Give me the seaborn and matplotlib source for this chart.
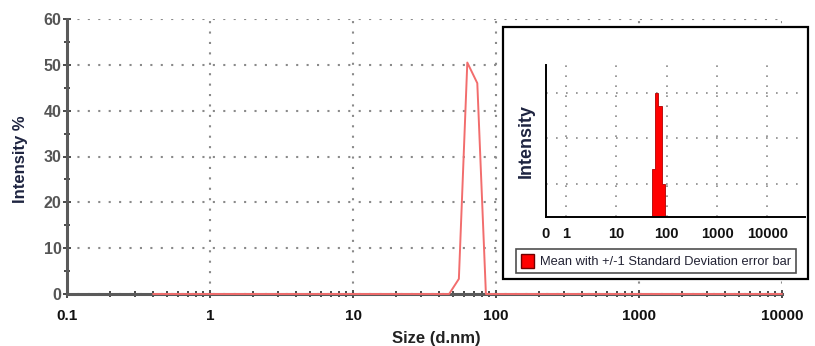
import matplotlib
matplotlib.use("Agg")
import matplotlib.pyplot as plt
import seaborn as sns
import pandas as pd
from matplotlib.patches import Rectangle, Patch
from matplotlib.ticker import LogLocator, MultipleLocator, FixedLocator, NullFormatter

# ---- data ----
sizes_nm = [0.4, 47, 55, 63, 74, 85, 10000]
intensity_pct = [0, 0, 3.3, 50.5, 46, 0, 0]

x_tick_values = [0.1, 1, 10, 100, 1000, 10000]
x_tick_labels = ["0.1", "1", "10", "100", "1000", "10000"]
y_tick_values = [0, 10, 20, 30, 40, 50, 60]

inset_bin_edges = [51, 59, 68, 79, 91]
inset_heights = [17.4, 44.9, 40.2, 11.9]
inset_tick_values = [0.4, 1, 10, 100, 1000, 10000]
inset_tick_labels = ["0", "1", "10", "100", "1000", "10000"]
inset_grid_y = [12, 28.6, 45]
legend_text = "Mean with +/-1 Standard Deviation error bar"

sns.set_theme(style="white")
plt.rcParams["font.family"] = ["Liberation Sans", "DejaVu Sans"]

fig = plt.figure(figsize=(8.15, 3.46), dpi=100)
ax = fig.add_axes([67/815, 1-294/346, 715/815, 275/346])

df = pd.DataFrame({"size": sizes_nm, "intensity": intensity_pct})
sns.lineplot(data=df, x="size", y="intensity", ax=ax, color="#f26d6d",
             lw=1.4, zorder=5, sort=False, clip_on=False)

ax.set_xscale("log")
ax.set_xlim(0.1, 10000)
ax.set_ylim(0, 60)
ax.set_xticks(x_tick_values)
ax.set_xticklabels(x_tick_labels)
ax.xaxis.set_minor_locator(LogLocator(base=10, subs=range(2, 10), numticks=20))
ax.xaxis.set_minor_formatter(NullFormatter())
ax.set_yticks(y_tick_values)
ax.yaxis.set_minor_locator(MultipleLocator(5))

for s in ["top", "right"]:
    ax.spines[s].set_visible(False)
for s in ["left", "bottom"]:
    ax.spines[s].set_color("#5a5a5a")
    ax.spines[s].set_linewidth(2.2)
    ax.spines[s].set_zorder(3)

ax.grid(True, which="major", color="#8a8a8a", lw=1.5, ls=(0, (1, 4)))
ax.tick_params(which="both", bottom=True, left=True, direction="inout",
               color="#4a4a4a", width=1.4)
ax.tick_params(which="major", length=6)
ax.tick_params(which="minor", length=5)
ax.tick_params(axis="x", labelsize=11, labelcolor="#111111", pad=8)
ax.tick_params(axis="y", labelsize=11.5, labelcolor="#555555", pad=1)
for lab in ax.get_xticklabels():
    lab.set_fontweight("bold")
for lab in ax.get_yticklabels():
    lab.set_fontweight("bold")

ax.set_xlabel("Size (d.nm)", fontsize=12, fontweight="bold", color="#222222")
ax.xaxis.set_label_coords(0.516, -0.135)
ax.set_ylabel("Intensity %", fontsize=12, fontweight="bold", color="#1e2440")
ax.yaxis.set_label_coords(-0.055, 0.49)

# ---- inset (pasted statistics graph) ----
fig.patches.append(Rectangle((503/815, 1-279/346), 305/815, 252/346,
                             transform=fig.transFigure, fill=True,
                             facecolor="white", edgecolor="black", lw=1.6,
                             zorder=10))
axi = fig.add_axes([546/815, 1-217/346, 259/815, 152/346], zorder=11)
axi.set_facecolor("none")
axi.stairs(inset_heights, inset_bin_edges, fill=True, color="#ff0000",
           edgecolor="#b00000", lw=0.6)
axi.set_xscale("log")
axi.set_xlim(0.4, 56000)
axi.set_ylim(0, 55)
axi.xaxis.set_major_locator(FixedLocator(inset_tick_values))
axi.set_xticklabels(inset_tick_labels)
axi.xaxis.set_minor_locator(FixedLocator([]))
axi.set_yticks(inset_grid_y)
axi.set_yticklabels([])
for x in inset_tick_values[1:]:
    axi.axvline(x, color="#8a8a8a", lw=1.2, ls=(0, (1, 5)), zorder=0)
for y in inset_grid_y:
    axi.axhline(y, color="#8a8a8a", lw=1.2, ls=(0, (1, 5)), zorder=0)
for s in ["top", "right"]:
    axi.spines[s].set_visible(False)
for s in ["left", "bottom"]:
    axi.spines[s].set_color("black")
    axi.spines[s].set_linewidth(1.4)
axi.tick_params(length=0, pad=7, labelsize=10.5, labelcolor="#111111")
for lab in axi.get_xticklabels():
    lab.set_fontweight("bold")
axi.set_ylabel("Intensity", fontsize=13, fontweight="bold", color="#1e2440",
               labelpad=1)

leg = axi.legend(handles=[Patch(facecolor="#ff0000", edgecolor="#700000",
                                label=legend_text)],
                 loc="center", bbox_to_anchor=(656/815, 1-261/346),
                 bbox_transform=fig.transFigure, frameon=True, fancybox=False,
                 prop={"family": ["Liberation Sans", "DejaVu Sans"],
                       "size": 9.3},
                 handlelength=1.0, handleheight=1.3, handletextpad=0.5,
                 borderpad=0.35, borderaxespad=0)
leg.get_frame().set_edgecolor("#222222")
leg.get_frame().set_linewidth(1.2)
for t in leg.get_texts():
    t.set_color("#222233")

fig.savefig("out.png", dpi=100)
